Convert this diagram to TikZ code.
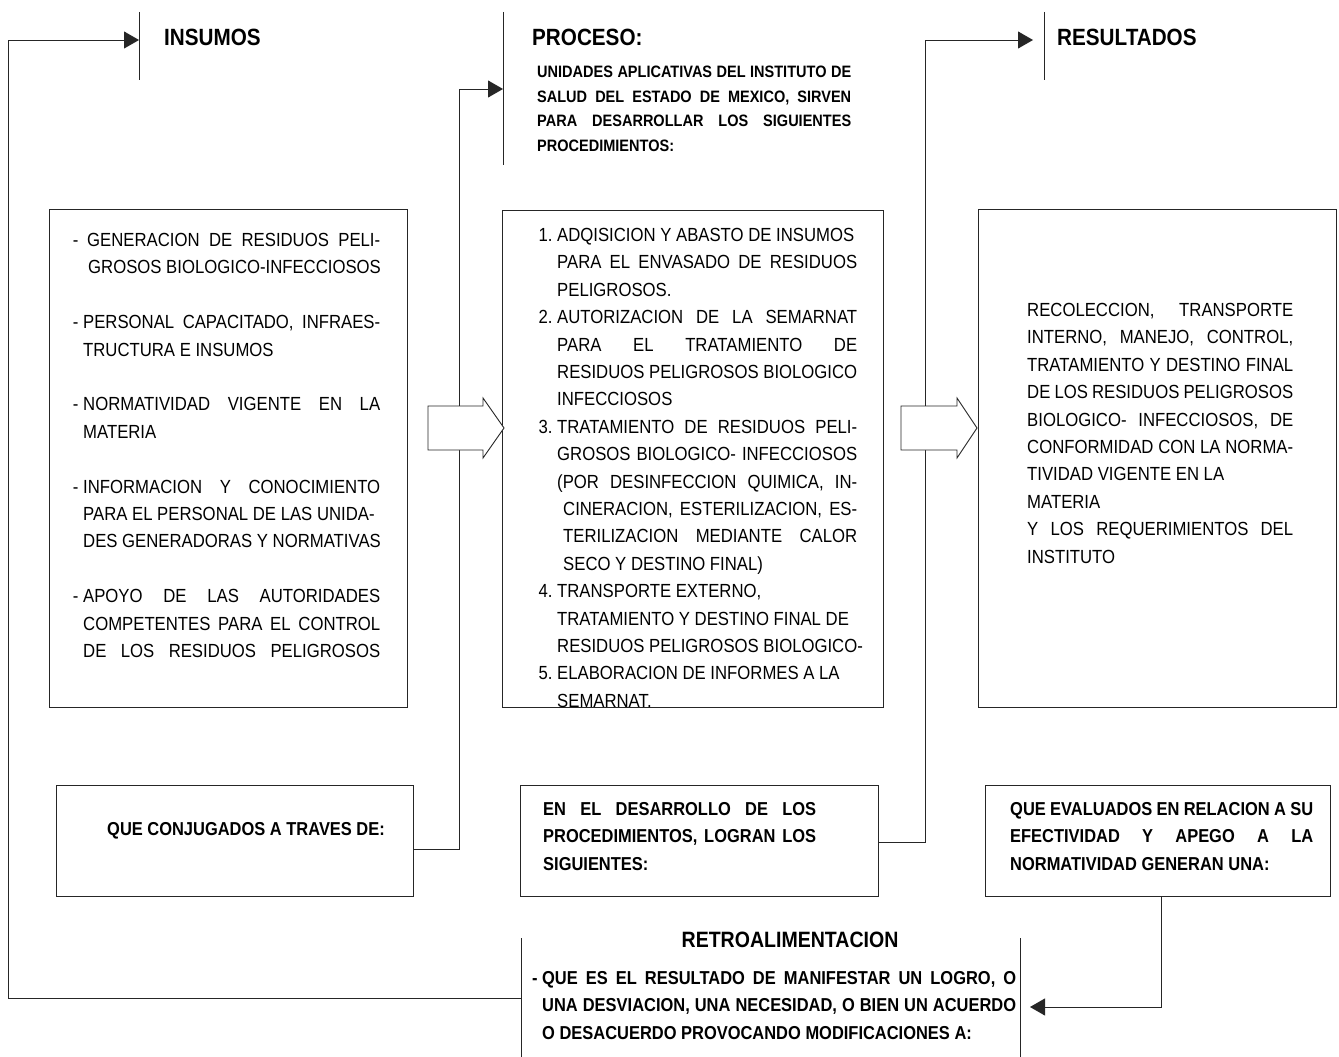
\documentclass[tikz,border=0pt]{standalone}
\usepackage{fontspec}
\setmainfont{Liberation Sans}[FakeStretch=0.88]
\usetikzlibrary{arrows.meta}
\newlength\lnw
\newcommand\jus[1]{\makebox[\lnw][s]{#1}}
\begin{document}
\begin{tikzpicture}[x=1pt,y=-1pt,
  box/.style={draw=black!85, line width=0.9pt, inner sep=0pt, outer sep=0pt, anchor=north west, fill=white},
  flow/.style={draw=black!85, line width=0.9pt},
  arr/.style={flow, -{Triangle[length=15pt,width=17pt]}},
  bar/.style={draw=black!85, line width=0.9pt},
  txt/.style={inner sep=0pt, anchor=north west, align=left, font=\fontsize{19}{27.4}\selectfont},
  btxt/.style={inner sep=0pt, anchor=north west, align=left, font=\fontsize{18.7}{27.4}\selectfont\bfseries},
  head/.style={inner sep=0pt, anchor=west, font=\fontsize{23.5}{28}\selectfont\bfseries},
  blockarrow/.style={draw=black!85, line width=0.9pt, fill=white}]
\useasboundingbox (0,0) rectangle (1339,1057);

% column header bars
\coordinate (insBarT) at (139,12);  \coordinate (insBarB) at (139,80);
\coordinate (procBarT) at (503,12); \coordinate (procBarB) at (503,165);
\coordinate (resBarT) at (1044,12); \coordinate (resBarB) at (1044,80);
\coordinate (retroLT) at (521,938); \coordinate (retroLB) at (521,1057);
\coordinate (retroRT) at (1020,938); \coordinate (retroRB) at (1020,1057);
\draw[bar] (insBarT) -- (insBarB);
\draw[bar] (procBarT) -- (procBarB);
\draw[bar] (resBarT) -- (resBarB);
\draw[bar] (retroLT) -- (retroLB);
\draw[bar] (retroRT) -- (retroRB);

% arrow entry points
\coordinate (insIn) at (139,40);
\coordinate (procIn) at (503,89);
\coordinate (resIn) at (1033,40);
\coordinate (retroIn) at (1030,1007);
\coordinate (retroOut) at (521,998);

% boxes
\node[box, minimum width=358pt, minimum height=498pt] (inBox) at (49,209) {};
\node[box, minimum width=381pt, minimum height=497pt] (procBox) at (502,210) {};
\node[box, minimum width=358pt, minimum height=498pt] (resBox) at (978,209) {};
\node[box, minimum width=357pt, minimum height=111pt] (conjBox) at (56,785) {};
\node[box, minimum width=358pt, minimum height=111pt] (devBox) at (520,785) {};
\node[box, minimum width=345pt, minimum height=111pt] (evalBox) at (985,785) {};

% connectors
\draw[arr] (conjBox.east |- 0,849) -| (459,89) -- (procIn);
\draw[arr] (devBox.east |- 0,842) -| (925,40) -- (resIn);
\draw[arr] ([xshift=3.5pt]evalBox.south) |- (retroIn);
\draw[arr] (retroOut) -| (8,40) -- (insIn);

% hollow block arrows between the columns
\draw[blockarrow] (428,406) -- (483,406) -- (483,398) -- (504,428) -- (483,458) -- (483,450) -- (428,450) -- cycle;
\draw[blockarrow] (901,406) -- (957,406) -- (957,398) -- (977,428) -- (957,458) -- (957,450) -- (901,450) -- cycle;

% headers
\node[head] (insHead) at (164,37) {INSUMOS};
\node[head] (procHead) at (532,37) {PROCESO:};
\node[head] (resHead) at (1057,37) {RESULTADOS};
\node[inner sep=0pt, font=\fontsize{22.2}{26}\selectfont\bfseries] (retroHead) at (790,940) {RETROALIMENTACION};

% process subtitle
\node[inner sep=0pt, anchor=north west, align=left, font=\fontsize{16.5}{24.6}\selectfont\bfseries] (procSub) at (537,66) {\global\lnw=314pt%
\jus{UNIDADES APLICATIVAS DEL INSTITUTO DE}\\
\jus{SALUD DEL ESTADO DE MEXICO, SIRVEN}\\
\jus{PARA DESARROLLAR LOS SIGUIENTES}\\
PROCEDIMIENTOS:};

% inputs
\node[txt] (inTxt) at (83,233) {\global\lnw=297pt%
\llap{-\ }\hspace*{4pt}\makebox[293pt][s]{GENERACION DE RESIDUOS PELI-}\\
\hspace*{5pt}GROSOS BIOLOGICO-INFECCIOSOS\\[27.4pt]
\llap{-\ }\jus{PERSONAL CAPACITADO, INFRAES-}\\
TRUCTURA E INSUMOS\\[27.4pt]
\llap{-\ }\jus{NORMATIVIDAD VIGENTE EN LA}\\
MATERIA\\[27.4pt]
\llap{-\ }\jus{INFORMACION Y CONOCIMIENTO}\\
PARA EL PERSONAL DE LAS UNIDA-\\
DES GENERADORAS Y NORMATIVAS\\[27.4pt]
\llap{-\ }\jus{APOYO DE LAS AUTORIDADES}\\
\jus{COMPETENTES PARA EL CONTROL}\\
\jus{DE LOS RESIDUOS PELIGROSOS}};

% procedures (the last line runs past the box edge and is cut by it)
\begin{scope}
\clip (procBox.north west) rectangle (procBox.south east);
\node[txt] (procTxt) at (557,228) {\global\lnw=300pt%
\llap{1.\ }ADQISICION Y ABASTO DE INSUMOS\\
\jus{PARA EL ENVASADO DE RESIDUOS}\\
PELIGROSOS.\\
\llap{2.\ }\jus{AUTORIZACION DE LA SEMARNAT}\\
\jus{PARA EL TRATAMIENTO DE}\\
\jus{RESIDUOS PELIGROSOS BIOLOGICO}\\
INFECCIOSOS\\
\llap{3.\ }\jus{TRATAMIENTO DE RESIDUOS PELI-}\\
\jus{GROSOS BIOLOGICO- INFECCIOSOS}\\
\jus{(POR DESINFECCION QUIMICA, IN-}\\
\hspace*{6pt}\makebox[294pt][s]{CINERACION, ESTERILIZACION, ES-}\\
\hspace*{6pt}\makebox[294pt][s]{TERILIZACION MEDIANTE CALOR}\\
\hspace*{6pt}SECO Y DESTINO FINAL)\\
\llap{4.\ }TRANSPORTE EXTERNO,\\
TRATAMIENTO Y DESTINO FINAL DE\\
RESIDUOS PELIGROSOS BIOLOGICO-\\
\llap{5.\ }ELABORACION DE INFORMES A LA\\
SEMARNAT.};
\end{scope}

% results
\node[txt] (resTxt) at (1027,303) {\global\lnw=266pt%
\jus{RECOLECCION, TRANSPORTE}\\
\jus{INTERNO, MANEJO, CONTROL,}\\
\jus{TRATAMIENTO Y DESTINO FINAL}\\
\jus{DE LOS RESIDUOS PELIGROSOS}\\
\jus{BIOLOGICO- INFECCIOSOS, DE}\\
\jus{CONFORMIDAD CON LA NORMA-}\\
TIVIDAD VIGENTE EN LA\\
MATERIA\\
\jus{Y LOS REQUERIMIENTOS DEL}\\
INSTITUTO};

% lower boxes
\node[inner sep=0pt, anchor=base west, font=\fontsize{18.7}{27.4}\selectfont\bfseries] (conjTxt) at (107,835) {QUE CONJUGADOS A TRAVES DE:};

\node[btxt] (devTxt) at (543,802) {\global\lnw=273pt%
\jus{EN EL DESARROLLO DE LOS}\\
\jus{PROCEDIMIENTOS, LOGRAN LOS}\\
SIGUIENTES:};

\node[btxt] (evalTxt) at (1010,802) {\global\lnw=303pt%
\jus{QUE EVALUADOS EN RELACION A SU}\\
\jus{EFECTIVIDAD Y APEGO A LA}\\
NORMATIVIDAD GENERAN UNA:};

% feedback
\node[btxt] (retroTxt) at (542,971) {\global\lnw=474pt%
\llap{-\ }\jus{QUE ES EL RESULTADO DE MANIFESTAR UN LOGRO, O}\\
\jus{UNA DESVIACION, UNA NECESIDAD, O BIEN UN ACUERDO}\\
O DESACUERDO PROVOCANDO MODIFICACIONES A:};
\end{tikzpicture}
\end{document}
